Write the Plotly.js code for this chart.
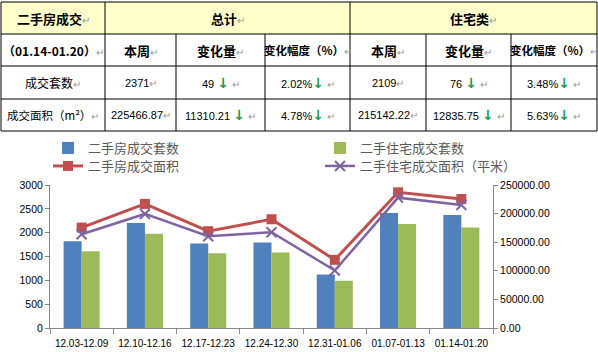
<!DOCTYPE html>
<html><head><meta charset="utf-8">
<script src="https://cdn.plot.ly/plotly-3.0.1.min.js"></script>
<style>html,body{margin:0;padding:0;background:#fff;}#chart{width:598px;height:352px;}</style>
</head><body><div id="chart"></div>
<script>
// ---- data ----
const categories = ['12.03-12.09','12.10-12.16','12.17-12.23','12.24-12.30','12.31-01.06','01.07-01.13','01.14-01.20'];
const allUnits = [1820, 2205, 1775, 1795, 1123, 2414, 2371];
const resUnits = [1612, 1975, 1570, 1584, 991, 2184, 2109];
const allArea = [175600, 216900, 169200, 190100, 119200, 237200, 225467];
const resArea = [164000, 199400, 160500, 167400, 100600, 227900, 215142];
const seriesNames = ['二手房成交套数','二手住宅成交套数','二手房成交面积','二手住宅成交面积（平米）'];

const tableTitle = '二手房成交';
const groupHeaders = ['总计','住宅类'];
const periodLabel = '（01.14-01.20）';
const colHeaders = ['本周','变化量','变化幅度（%）','本周','变化量','变化幅度（%）'];
const rowLabels = ['成交套数','成交面积（m²）'];
const totalWeek = ['2371','225466.87'];
const totalChange = ['49','11310.21'];
const totalPct = ['2.02%','4.78%'];
const resWeek = ['2109','215142.22'];
const resChange = ['76','12835.75'];
const resPct = ['3.48%','5.63%'];

// ---- layout geometry ----
const W = 598, H = 352;
const colX = [1,105,176,265,350,426,511,597];
const rowY = [2,34,66,99,131];
const px = x => x / W;
const py = y => 1 - y / H;

const shapes = [];
const annotations = [];
shapes.push({type:'rect', xref:'paper', yref:'paper', x0:px(colX[0]), x1:px(colX[7]), y0:py(rowY[0]), y1:py(rowY[1]), fillcolor:'#FFFFCC', line:{width:0}, layer:'below'});
rowY.forEach(y => shapes.push({type:'line', xref:'paper', yref:'paper', x0:px(colX[0]), x1:px(colX[7]), y0:py(y), y1:py(y), line:{color:'#000', width:1}}));
colX.forEach((x,i) => {
  const top = (i===0 || i===1 || i===4 || i===7) ? rowY[0] : rowY[1];
  shapes.push({type:'line', xref:'paper', yref:'paper', x0:px(x), x1:px(x), y0:py(top), y1:py(rowY[4]), line:{color:'#000', width:1}});
});

const RET = "<span style='color:#9a9a9a;font-size:10px;font-weight:normal'>↵</span>";
const DOWN = "<span style='color:#1e9b4a;font-size:14px;font-weight:bold;font-family:DejaVu Sans'>↓</span>";
const cjk = '"Noto Sans CJK SC", sans-serif';
const num = '"Liberation Sans", "Noto Sans CJK SC", sans-serif';
function cell(c0, c1, r, text, font) {
  annotations.push({xref:'paper', yref:'paper', x:px((colX[c0]+colX[c1])/2), y:py((rowY[r]+rowY[r+1])/2),
    text:text, showarrow:false, xanchor:'center', yanchor:'middle', font:font});
}
const hFont = {family:cjk, size:13, color:'#000'};
const vFont = {family:num, size:11, color:'#000'};
cell(0,1,0,'<b>'+tableTitle+'</b>'+RET,hFont);
cell(1,4,0,'<b>'+groupHeaders[0]+'</b>'+RET,hFont);
cell(4,7,0,'<b>'+groupHeaders[1]+'</b>'+RET,hFont);
cell(0,1,1,'<b>'+periodLabel+'</b>'+RET,{family:cjk, size:12, color:'#000'});
colHeaders.forEach((h,i) => cell(i+1,i+2,1,'<b>'+h+'</b>'+RET, h.length > 3 ? {family:cjk, size:11.5, color:'#000'} : hFont));
rowLabels.forEach((lab,r) => {
  cell(0,1,r+2,lab+RET,{family:cjk, size:r===1?11.5:12, color:'#000'});
  cell(1,2,r+2,totalWeek[r]+RET,vFont);
  cell(2,3,r+2,totalChange[r]+' '+DOWN+' '+RET,vFont);
  cell(3,4,r+2,totalPct[r]+DOWN+' '+RET,vFont);
  cell(4,5,r+2,resWeek[r]+RET,vFont);
  cell(5,6,r+2,resChange[r]+' '+DOWN+' '+RET,vFont);
  cell(6,7,r+2,resPct[r]+DOWN+' '+RET,vFont);
});

const blue = '#4F81BD', green = '#9BBB59', red = '#C0504D', purple = '#8064A2';
const traces = [
  {type:'bar', x:categories, y:allUnits, name:seriesNames[0], marker:{color:blue}, legend:'legend'},
  {type:'bar', x:categories, y:resUnits, name:seriesNames[1], marker:{color:green}, legend:'legend3'},
  {type:'scatter', mode:'lines+markers', x:categories, y:allArea, yaxis:'y2', name:seriesNames[2],
   line:{color:red, width:3}, marker:{symbol:'square', size:10, color:red}, legend:'legend2'},
  {type:'scatter', mode:'lines+markers', x:categories, y:resArea, yaxis:'y2', name:seriesNames[3],
   line:{color:purple, width:2.5}, marker:{symbol:'x-thin-open', size:10, color:purple, line:{color:purple, width:2}}, legend:'legend4'}
];

const legFont = {family:cjk, size:13, color:'#595959'};
function leg(x, y) { return {x:px(x), y:py(y), xanchor:'left', yanchor:'middle', bgcolor:'rgba(0,0,0,0)', font:legFont, orientation:'v', borderwidth:0}; }
const tickFont = {family:'"Liberation Sans", Arial, sans-serif', size:10.5, color:'#000'};

const layout = {
  width:W, height:H, autosize:false,
  margin:{l:0, r:0, t:0, b:0},
  paper_bgcolor:'#fff', plot_bgcolor:'#fff',
  barmode:'group', bargap:0.43, bargroupgap:0,
  showlegend:true,
  legend:leg(48,148), legend2:leg(48,166), legend3:leg(320,148), legend4:leg(320,166),
  xaxis:{type:'category', domain:[px(50), px(493)], showline:true, linecolor:'#868686', ticks:'outside', ticklen:5,
    tickcolor:'#868686', tickson:'boundaries', showgrid:false, tickangle:0, ticklabelstandoff:6,
    tickfont:{family:'"Liberation Sans", Arial, sans-serif', size:10, color:'#000'}},
  yaxis:{domain:[1-328/H, 1-185/H], range:[0,3000], dtick:500, showline:true, linecolor:'#868686', ticks:'outside',
    ticklen:4, tickcolor:'#868686', showgrid:false, zeroline:false, tickfont:tickFont},
  yaxis2:{overlaying:'y', side:'right', anchor:'x', range:[0,250000], dtick:50000, tickformat:'.2f', showline:true,
    linecolor:'#868686', ticks:'outside', ticklen:4, tickcolor:'#868686', showgrid:false, zeroline:false, tickfont:tickFont},
  shapes:shapes, annotations:annotations
};
Plotly.newPlot('chart', traces, layout, {displayModeBar:false, staticPlot:true});
</script></body></html>
